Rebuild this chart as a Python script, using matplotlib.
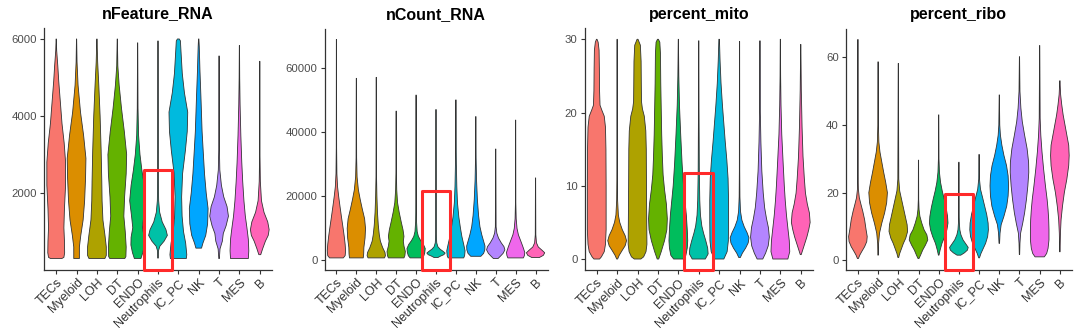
import matplotlib
matplotlib.use("Agg")
import matplotlib.pyplot as plt
from matplotlib.patches import Rectangle

plt.rcParams['font.family'] = ['Liberation Sans', 'DejaVu Sans']

categories = ["TECs", "Myeloid", "LOH", "DT", "ENDO", "Neutrophils",
              "IC_PC", "NK", "T", "MES", "B"]
colors = ["#F8766D", "#DB8E00", "#AEA200", "#64B200", "#00BD5C", "#00C1A7",
          "#00BADE", "#00A6FF", "#B385FF", "#EF67EB", "#FF63B6"]
titles = ["nFeature_RNA", "nCount_RNA", "percent_mito", "percent_ribo"]
yticks = [[2000, 4000, 6000], [0, 20000, 40000, 60000], [0, 10, 20, 30], [0, 20, 40, 60]]

# violin profiles: (values, relative density width)
nfeature_profiles = {
    "TECs": ([300, 330, 450, 750, 1100, 1600, 2200, 2800, 3300, 3800, 4400, 4900, 5300, 5700, 6000],
             [0.6, 0.82, 0.9, 0.88, 0.82, 0.88, 1.0, 1.0, 0.85, 0.62, 0.43, 0.27, 0.17, 0.05, 0.01]),
    "Myeloid": ([300, 600, 900, 1300, 1800, 2400, 2900, 3500, 4100, 4800, 5400, 6000],
                [0.3, 0.3, 0.45, 0.7, 0.86, 0.96, 1.0, 0.75, 0.42, 0.16, 0.05, 0.01]),
    "LOH": ([300, 380, 600, 900, 1300, 1800, 2300, 3100, 4000, 4800, 5400, 6000],
            [0.85, 1.0, 1.0, 0.86, 0.64, 0.55, 0.52, 0.45, 0.34, 0.2, 0.08, 0.01]),
    "DT": ([300, 350, 600, 1000, 1400, 1900, 2500, 3000, 3600, 4200, 4800, 5300, 6000],
           [0.8, 0.92, 0.95, 0.85, 0.7, 0.78, 0.95, 1.0, 0.75, 0.45, 0.2, 0.06, 0.01]),
    "ENDO": ([300, 450, 650, 850, 1100, 1400, 1800, 2200, 2600, 3000, 3500, 4200, 5900],
             [0.35, 0.55, 0.72, 0.7, 0.52, 0.65, 0.85, 0.7, 0.45, 0.25, 0.1, 0.04, 0.01]),
    "Neutrophils": ([310, 500, 620, 750, 900, 1050, 1250, 1500, 1800, 2400, 5950],
                    [0.02, 0.05, 0.2, 0.65, 1.0, 0.85, 0.45, 0.18, 0.07, 0.03, 0.01]),
    "IC_PC": ([300, 400, 700, 1000, 1400, 1900, 2500, 3100, 3600, 4100, 4600, 5100, 5600, 5950, 6000],
              [0.85, 0.9, 0.78, 0.55, 0.4, 0.35, 0.45, 0.75, 0.95, 1.0, 0.65, 0.42, 0.3, 0.22, 0.1]),
    "NK": ([570, 700, 900, 1200, 1600, 2000, 2500, 3000, 3600, 4400, 5200, 5800, 6000],
           [0.3, 0.45, 0.75, 0.95, 1.0, 0.8, 0.62, 0.5, 0.36, 0.25, 0.13, 0.06, 0.02]),
    "T": ([300, 550, 750, 950, 1150, 1400, 1650, 1900, 2200, 2600, 3200, 5560],
          [0.03, 0.1, 0.35, 0.45, 0.75, 1.0, 0.85, 0.5, 0.25, 0.08, 0.03, 0.01]),
    "MES": ([300, 500, 800, 1100, 1400, 1800, 2300, 2800, 3500, 4300, 5000, 5830],
            [0.95, 1.0, 0.95, 0.8, 0.63, 0.48, 0.35, 0.25, 0.15, 0.07, 0.03, 0.01]),
    "B": ([400, 550, 750, 900, 1050, 1250, 1500, 1800, 2300, 3000, 5420],
          [0.1, 0.3, 0.6, 0.9, 1.0, 0.85, 0.45, 0.18, 0.06, 0.02, 0.01]),
}

ncount_profiles = {
    "TECs": ([800, 1500, 3000, 5000, 7500, 10000, 13500, 17000, 20000, 23000, 27000, 35000, 68800],
             [0.75, 0.95, 1.0, 0.95, 0.85, 0.73, 0.55, 0.38, 0.24, 0.12, 0.05, 0.02, 0.01]),
    "Myeloid": ([800, 2000, 4000, 7000, 10000, 13000, 16000, 19000, 22000, 26000, 32000, 56700],
                [0.75, 0.8, 0.82, 0.95, 1.0, 0.9, 0.65, 0.42, 0.22, 0.08, 0.03, 0.01]),
    "LOH": ([800, 1500, 2500, 4000, 6000, 8000, 11000, 15000, 20000, 26000, 57000],
            [0.9, 1.0, 0.95, 0.7, 0.45, 0.33, 0.22, 0.13, 0.07, 0.03, 0.01]),
    "DT": ([800, 1500, 2800, 4500, 6000, 7500, 9500, 12000, 15000, 18000, 22000, 28000, 46500],
           [0.85, 0.95, 1.0, 0.85, 0.78, 0.85, 0.75, 0.55, 0.33, 0.15, 0.06, 0.02, 0.01]),
    "ENDO": ([800, 1500, 2500, 3700, 5000, 6200, 7500, 9000, 12000, 18000, 51500],
             [0.65, 0.85, 0.95, 1.0, 0.8, 0.5, 0.25, 0.12, 0.05, 0.02, 0.01]),
    "Neutrophils": ([900, 1300, 1800, 2300, 2900, 3500, 4300, 5500, 8000, 47000],
                    [0.2, 0.45, 0.85, 1.0, 0.75, 0.45, 0.2, 0.08, 0.03, 0.01]),
    "IC_PC": ([800, 1500, 3000, 5000, 7500, 10000, 13500, 18000, 23000, 30000, 38000, 50000],
              [0.85, 0.95, 1.0, 0.85, 0.65, 0.5, 0.32, 0.17, 0.1, 0.05, 0.02, 0.01]),
    "NK": ([1300, 2200, 3300, 4500, 6000, 8000, 10500, 14000, 19000, 25000, 32000, 44800],
           [0.55, 0.85, 0.98, 1.0, 0.85, 0.65, 0.45, 0.3, 0.17, 0.08, 0.03, 0.01]),
    "T": ([600, 1300, 2200, 3300, 4300, 5500, 7000, 8500, 10500, 34700],
          [0.25, 0.5, 0.8, 1.0, 0.9, 0.6, 0.3, 0.12, 0.04, 0.01]),
    "MES": ([800, 1500, 2500, 3800, 5000, 6500, 8000, 10000, 13000, 18000, 43700],
            [0.85, 0.95, 1.0, 0.85, 0.7, 0.5, 0.3, 0.15, 0.06, 0.02, 0.01]),
    "B": ([900, 1600, 2400, 3200, 4200, 5500, 8000, 25700],
          [0.4, 0.85, 1.0, 0.7, 0.3, 0.1, 0.03, 0.01]),
}

mito_profiles = {
    "TECs": ([0, 0.3, 1, 2, 4, 10, 15, 18, 19.5, 20.3, 21, 23, 26, 28.5, 29.6, 30],
             [0.3, 0.5, 0.8, 0.93, 1.0, 1.0, 0.98, 0.93, 0.8, 0.55, 0.35, 0.3, 0.28, 0.25, 0.15, 0.03]),
    "Myeloid": ([0, 0.5, 1.2, 1.8, 2.5, 3.2, 4, 5, 6, 8, 12, 30],
                [0.05, 0.22, 0.55, 0.85, 1.0, 0.85, 0.55, 0.28, 0.13, 0.05, 0.02, 0.01]),
    "LOH": ([0, 0.3, 1, 2, 5, 10, 15, 17.5, 19.5, 20.5, 21.5, 24, 27, 29.2, 30],
            [0.35, 0.65, 0.9, 1.0, 0.98, 0.95, 0.93, 0.88, 0.72, 0.52, 0.42, 0.4, 0.38, 0.3, 0.05]),
    "DT": ([0, 1, 2.5, 4, 5.5, 7.5, 9.5, 11.5, 14, 17, 20.5, 24, 28, 29.6, 30],
           [0.08, 0.35, 0.7, 0.95, 1.0, 0.9, 0.7, 0.55, 0.47, 0.4, 0.35, 0.3, 0.27, 0.2, 0.05]),
    "ENDO": ([0, 0.5, 1.5, 2.5, 4, 6, 8, 10, 13, 17, 21, 25, 30],
             [0.5, 0.8, 0.95, 1.0, 0.95, 0.85, 0.7, 0.55, 0.4, 0.25, 0.12, 0.05, 0.01]),
    "Neutrophils": ([0, 0.7, 1.5, 2.5, 3.5, 4.5, 6, 8, 12, 20, 29.8],
                    [0.7, 1.0, 0.95, 0.75, 0.52, 0.33, 0.18, 0.11, 0.06, 0.03, 0.01]),
    "IC_PC": ([0, 1, 2.5, 5, 8, 11, 13.5, 16, 18.5, 21, 24, 27, 30],
              [0.5, 0.85, 0.98, 1.0, 1.0, 0.95, 0.82, 0.65, 0.5, 0.35, 0.2, 0.1, 0.03]),
    "NK": ([0.2, 0.8, 1.5, 2.2, 2.9, 3.6, 4.4, 5.3, 6.5, 8.5, 12, 29.7],
           [0.08, 0.3, 0.65, 0.92, 1.0, 0.8, 0.5, 0.25, 0.1, 0.04, 0.02, 0.01]),
    "T": ([0, 0.8, 1.8, 3, 4.3, 5.5, 7, 9, 12, 16, 20, 29.8],
          [0.3, 0.6, 0.88, 1.0, 0.9, 0.7, 0.5, 0.35, 0.2, 0.1, 0.04, 0.01]),
    "MES": ([0, 1, 2.5, 4, 6, 8, 10, 13, 17, 21, 25, 30],
            [0.8, 1.0, 0.95, 0.82, 0.65, 0.52, 0.42, 0.3, 0.15, 0.07, 0.03, 0.01]),
    "B": ([0.6, 1.2, 2, 3, 4, 5, 6.3, 7.5, 9, 11, 14, 18, 23, 29.3],
          [0.05, 0.2, 0.4, 0.65, 0.85, 1.0, 0.92, 0.7, 0.5, 0.38, 0.24, 0.14, 0.06, 0.01]),
}

ribo_profiles = {
    "TECs": ([0.5, 1.5, 2.5, 4, 5.5, 7, 9, 12, 14.5, 16.5, 18.5, 21, 25, 65.3],
             [0.05, 0.2, 0.4, 0.72, 0.95, 1.0, 0.88, 0.72, 0.52, 0.33, 0.15, 0.05, 0.02, 0.01]),
    "Myeloid": ([1.5, 5, 8, 11, 14, 17, 20, 23, 26, 29, 32, 35, 40, 58.7],
                [0.02, 0.05, 0.15, 0.4, 0.7, 0.92, 1.0, 0.82, 0.6, 0.4, 0.2, 0.08, 0.03, 0.01]),
    "LOH": ([0.8, 2, 3.5, 5, 6.5, 8.5, 10.5, 13, 15.5, 18, 20.5, 24, 58.2],
            [0.04, 0.15, 0.35, 0.55, 0.8, 1.0, 0.95, 0.75, 0.55, 0.35, 0.15, 0.05, 0.01]),
    "DT": ([0.5, 1.5, 3, 4.5, 6, 7.5, 9, 11, 13, 15, 18, 29.6],
           [0.05, 0.22, 0.45, 0.75, 1.0, 0.9, 0.6, 0.35, 0.15, 0.06, 0.02, 0.01]),
    "ENDO": ([1.5, 3, 5, 7, 9, 11, 13, 15.5, 18, 20.5, 23, 26, 30, 43],
             [0.03, 0.15, 0.35, 0.65, 0.88, 1.0, 0.95, 0.8, 0.6, 0.38, 0.2, 0.08, 0.03, 0.01]),
    "Neutrophils": ([1.5, 2.2, 3, 3.8, 4.8, 6, 7.5, 9, 11, 14, 29],
                    [0.2, 0.6, 0.92, 1.0, 0.75, 0.45, 0.22, 0.1, 0.05, 0.02, 0.01]),
    "IC_PC": ([0.7, 2, 3.5, 5, 7, 9, 11, 13.5, 16, 18.5, 21, 24, 31.3],
              [0.04, 0.2, 0.45, 0.7, 0.92, 1.0, 0.97, 0.82, 0.6, 0.38, 0.15, 0.04, 0.01]),
    "NK": ([5, 8, 10.5, 13, 16, 19, 22, 25, 28, 31, 34, 37, 40, 48.9],
           [0.03, 0.08, 0.2, 0.5, 0.8, 0.95, 1.0, 0.95, 0.78, 0.5, 0.28, 0.12, 0.05, 0.01]),
    "T": ([1.7, 5, 8, 11, 14, 18, 22, 26, 29, 33, 37, 41, 45, 50, 60.2],
          [0.02, 0.05, 0.12, 0.35, 0.55, 0.75, 0.9, 1.0, 0.98, 0.82, 0.55, 0.3, 0.15, 0.05, 0.01]),
    "MES": ([1, 2, 3.5, 6, 9, 12, 15, 18, 22, 27, 32, 37, 42, 63.5],
            [0.5, 0.75, 0.9, 1.0, 1.0, 0.97, 0.9, 0.8, 0.62, 0.42, 0.25, 0.12, 0.05, 0.01]),
    "B": ([2.5, 8, 12, 16, 20, 24, 28, 31, 34, 37, 40, 43, 46, 49, 53.1],
          [0.02, 0.06, 0.13, 0.28, 0.48, 0.75, 0.95, 1.0, 0.95, 0.75, 0.55, 0.35, 0.2, 0.08, 0.01]),
}

panel_profiles = [nfeature_profiles, ncount_profiles, mito_profiles, ribo_profiles]
highlight_top = [2600, 21700, 11.8, 19.7]   # upper edge of the red box around Neutrophils
highlight_category = "Neutrophils"

# layout (pixel boxes: left, right, top, bottom)
W, H = 1080, 330
boxes = [(44, 272, 28, 269.5), (324.5, 547.5, 28.5, 269.5),
         (584.5, 813, 28.3, 270), (845.8, 1072, 28.5, 269.5)]

fig = plt.figure(figsize=(W / 100, H / 100), dpi=100)
half = 0.46
for p, prof in enumerate(panel_profiles):
    l, r, t, b = boxes[p]
    ax = fig.add_axes([l / W, 1 - b / H, (r - l) / W, (b - t) / H])
    allv = [v for c in categories for v in prof[c][0]]
    lo, hi = min(allv), max(allv)
    pad = 0.05 * (hi - lo)
    ax.set_ylim(lo - pad, hi + pad)
    ax.set_xlim(0.4, len(categories) + 0.6)
    for i, c in enumerate(categories):
        ys, ws = prof[c]
        x0 = i + 1
        left = [x0 - half * w for w in ws]
        right = [x0 + half * w for w in ws]
        px = right + left[::-1]
        py = list(ys) + list(ys)[::-1]
        ax.fill(px, py, facecolor=colors[i], edgecolor="#333333",
                linewidth=0.6, zorder=2, joinstyle="round")
    # red highlight box
    k = categories.index(highlight_category) + 1
    y0 = lo - pad
    rect = Rectangle((k - 0.7, y0), 1.4, highlight_top[p] - y0, fill=False,
                     edgecolor="#FF2A2A", linewidth=2.2, clip_on=False, zorder=5,
                     joinstyle="round")
    ax.add_patch(rect)

    ax.set_xticks(range(1, len(categories) + 1))
    ax.set_xticklabels(categories, rotation=45, ha="right", va="top",
                       rotation_mode="anchor", fontsize=9, color="#303030")
    ax.set_yticks(yticks[p])
    ax.set_yticklabels([str(v) for v in yticks[p]], fontsize=8.2, color="#4D4D4D")
    ax.tick_params(axis="both", length=3, width=0.8, color="#333333", pad=2)
    for s in ("top", "right"):
        ax.spines[s].set_visible(False)
    for s in ("left", "bottom"):
        ax.spines[s].set_linewidth(0.9)
        ax.spines[s].set_color("#333333")
    ax.set_title(titles[p], fontsize=11.5, fontweight="bold", pad=7)
    ax.set_facecolor("white")

fig.savefig("out.png", dpi=100, facecolor="white")
